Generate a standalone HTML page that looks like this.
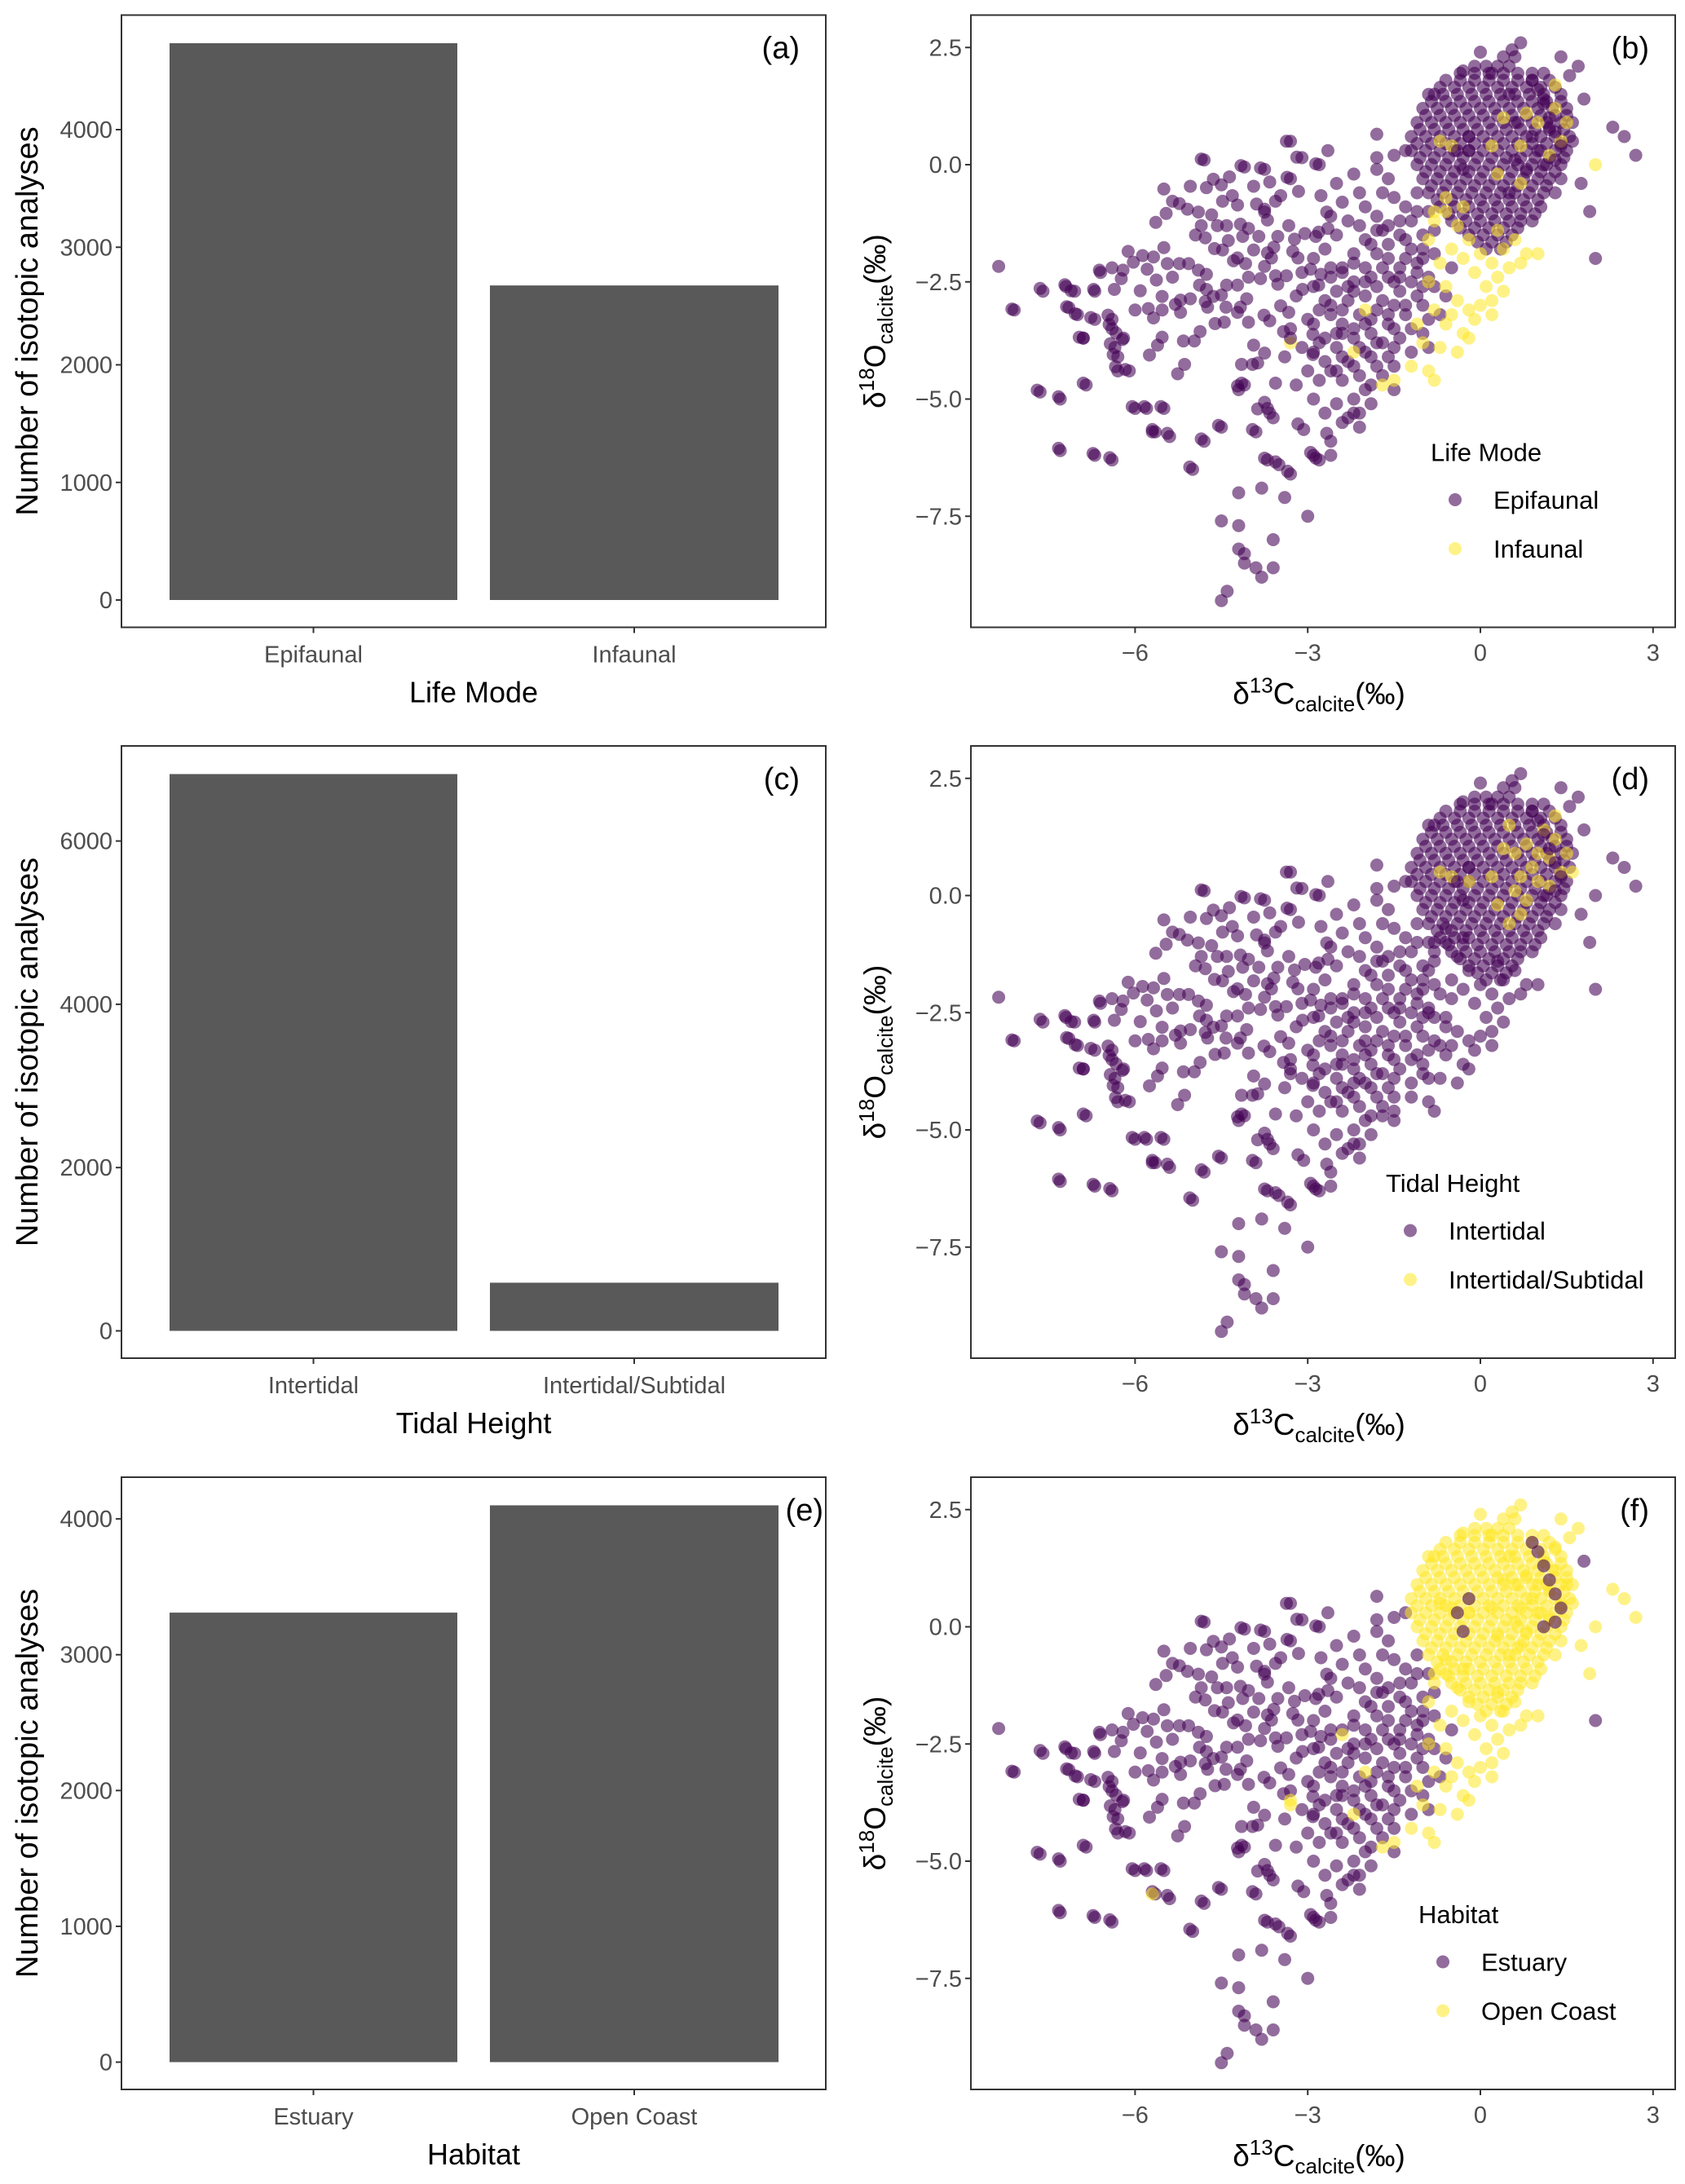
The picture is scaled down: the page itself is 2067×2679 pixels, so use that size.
<!DOCTYPE html>
<html><head><meta charset="utf-8">
<style>
html,body{margin:0;padding:0;background:#fff;}
svg{display:block;font-family:"Liberation Sans",Arial,sans-serif;}
</style></head>
<body>
<svg id="fig" width="2067" height="2679" viewBox="0 0 2067 2679" xmlns="http://www.w3.org/2000/svg"></svg>
<script>
// ---------- bar data ----------
const lifeModeCats = ["Epifaunal","Infaunal"];
const lifeModeCounts = [4735, 2675];
const tidalCats = ["Intertidal","Intertidal/Subtidal"];
const tidalCounts = [6820, 590];
const habitatCats = ["Estuary","Open Coast"];
const habitatCounts = [3310, 4100];
const ticksA = [0,1000,2000,3000,4000];
const ticksC = [0,2000,4000,6000];
const ticksE = [0,1000,2000,3000,4000];
// ---------- scatter data (d13C, d18O) ----------
const leftX = [-8.37,-8.1,-7.6,-7.2,-7.05,-7.15,-7.0,-6.9,-6.7,-6.7,-6.6,-6.4,-6.4,-6.35,-6.3,-6.2,-6.1,-6.3,-7.65,-7.3,-6.85,-7.3,-6.7,-6.4,-6.0,-5.8,-5.5,-5.65,-5.4,-5.0,-4.8,-4.5,-4.2,-4.1,-3.9,-3.7,-3.6,-3.7,-3.5,-3.3,-4.2,-3.8,-3.4,-3.0,-4.5,-4.2,-4.2,-4.1,-4.1,-3.9,-3.8,-3.6,-3.6,-4.4,-4.5,-2.6,-2.8,-2.9,-2.6,-2.4,-2.1,-2.2,-1.9,-2.65,-2.8,-3.1,-3.3,-4.8,-4.1,-3.75,-3.3,-1.8,-1.8,-1.5,-1.3,-1.8,-1.6,-2.2,-2.5,
-4.85,-3.37,-3.19,-2.86,-3.82,-4.16,-4.36,-3.66,-3.36,-3.16,-5.5,-5.04,-4.76,-4.64,-4.5,-3.94,-5.35,-5.23,-5.46,-5.64,-5.09,-4.9,-4.67,-4.48,-4.31,-4.22,-3.89,-3.75,-3.56,-3.47,-3.75,-2.77,-2.67,-4.85,-4.95,-4.78,-4.57,-4.41,-4.17,-4.03,-4.13,-3.85,-3.7,-3.52,-3.33,-3.23,-3.05,-2.86,-2.81,-2.65,-4.38,-4.62,-4.48,-4.22,-4.29,-4.08,-3.94,-3.7,-3.59,-3.26,-3.17,-3.63,-3.75,-3.82,-3.56,-3.37,-3.52,-2.95,-2.77,-3.09,-2.81,-4.03,-4.22,-4.41,-4.5,-4.64,-4.76,-4.88,-4.78,-4.74,-5.04,-5.21,-5.3,-5.53,-5.53,-5.68,-5.77,-6.0,-5.91,-5.35,-5.23,-5.07,-4.9,-4.76,-5.44,-5.63,-5.79,-5.68,-5.87,-6.03,-6.12,-5.5,-6.21,-6.36,-6.24,-6.4,-6.62,-6.72,-4.61,-4.45,-4.22,-4.03,-4.17,-4.06,-4.42,-4.87,-4.97,-5.16,-5.53,-5.61,-5.75,-5.21,-5.14,-5.26,-4.22,-4.15,-3.56,-3.96,-4.15,-3.87,-3.75,-2.91,-2.91,-3.94,-3.42,-3.76,-3.47,-3.33,-3.75,-3.66,-3.87,-3.96,-3.17,-3.07,-2.67,-2.95,-2.86,-3.75,-3.56,-3.35,-4.55,-4.85,-5.44,-5.7,-5.05,-6.05,-5.84,-5.55,-6.9,-7.7,-7.33,-7.33,-6.73,-6.44,-8.14,-7.65,-7.22,-7.11,-7.19,-7.04,-6.77,-6.47,-6.45,-6.33,-6.22,-6.43,-6.38,-6.34,-6.17,-6.97,-6.9,-3.66];
const leftY = [-2.17,-3.1,-2.7,-2.6,-2.7,-3.05,-3.2,-3.7,-3.3,-2.7,-2.3,-3.3,-3.5,-3.9,-4.1,-3.7,-4.4,-4.4,-4.85,-5.0,-4.7,-6.1,-6.2,-6.3,-5.2,-5.2,-5.2,-5.7,-5.8,-6.5,-5.9,-5.6,-4.8,-4.7,-5.7,-5.2,-5.4,-6.3,-6.4,-6.6,-7.0,-6.9,-7.1,-7.5,-7.6,-7.7,-8.2,-8.3,-8.5,-8.6,-8.8,-8.6,-8.0,-9.1,-9.3,-6.2,-6.3,-6.2,-5.9,-5.5,-5.6,-5.3,-5.1,0.3,0.0,0.15,0.5,0.1,-0.05,-0.1,-0.3,0.65,0.15,0.2,0.3,-0.1,-0.3,-0.2,-0.4,
0.12,0.5,0.16,0.02,-0.07,-0.02,-0.26,-0.37,-0.27,-0.57,-0.52,-0.46,-0.49,-0.31,-0.43,-0.46,-0.78,-0.83,-1.04,-1.23,-0.95,-1.01,-1.07,-0.78,-0.66,-0.86,-0.84,-1.01,-0.78,-0.66,-0.95,-0.66,-1.01,-1.3,-1.5,-1.56,-1.3,-1.3,-1.27,-1.36,-1.53,-1.53,-1.18,-1.53,-1.3,-1.59,-1.47,-1.53,-1.44,-1.36,-1.62,-1.79,-1.82,-1.99,-2.05,-2.11,-1.82,-1.88,-1.76,-1.85,-1.99,-1.99,-2.17,-2.43,-2.37,-2.37,-2.55,-2.23,-2.34,-2.66,-2.57,-2.4,-2.57,-2.57,-2.78,-2.81,-2.66,-2.57,-2.92,-3.04,-2.86,-2.89,-2.98,-2.81,-3.1,-3.27,-3.07,-3.1,-2.69,-2.4,-2.11,-2.11,-2.25,-2.34,-2.11,-2.46,-2.23,-1.97,-1.94,-2.08,-1.85,-1.77,-2.25,-2.66,-2.43,-2.2,-2.25,-2.66,-3.39,-3.36,-3.15,-3.36,-3.04,-2.86,-3.04,-3.56,-3.76,-3.76,-3.68,-3.85,-4.06,-3.15,-4.26,-4.46,-4.72,-4.66,-4.66,-4.26,-4.26,-4.23,-4.02,-4.05,-3.62,-3.85,-3.56,-3.21,-3.01,-3.15,-5.07,-5.3,-5.21,-5.65,-5.53,-5.65,-5.73,-6.14,-6.26,-6.26,-6.34,-6.54,-5.56,-5.85,-5.73,-5.65,-6.45,-5.16,-5.16,-5.16,-4.66,-4.81,-4.95,-6.05,-6.16,-6.25,-3.08,-2.64,-2.56,-2.69,-3.03,-3.18,-3.26,-3.21,-3.41,-3.59,-3.73,-3.82,-4.05,-4.31,-4.37,-3.68,-3.7,-3.33];
const midX = [-2.9,-2.7,-2.5,-2.3,-2.1,-2.0,-2.2,-2.4,-2.6,-2.8,-3.0,-3.1,-2.9,-2.6,-2.4,-2.2,-2.0,-1.8,-1.9,-2.1,-2.3,-2.5,-2.7,-2.8,-3.0,-2.6,-2.4,-2.2,-2.0,-1.8,-1.6,-1.7,-1.5,-1.4,-1.6,-1.8,-2.0,-2.2,-2.0,-1.8,-1.6,-1.4,-1.2,-1.1,-1.3,-1.0,-1.2,-1.4,-1.6,-1.8,-2.0,-2.3,-2.5,-2.7,-2.9,-3.1,-1.2,-1.0,-1.0,-0.9,-1.3,-1.5,-1.1,-0.9,-0.8,-1.7,-2.1,-2.4,-2.6,-1.9,-1.7,-2.5,-2.7,-2.3,-1.6,-1.4,-1.2,-1.0,-0.9,-0.7,-0.6,-0.8,-0.5,-3.2,-3.3,-3.4,-3.2,-2.9,-2.1,-1.5,-2.4,-2.2,-1.9,-1.7,-1.5,-1.3,-1.1,
-2.8,-2.5,-2.2,-1.9,-1.6,-1.3,-2.7,-2.4,-2.1,-1.8,-1.5,-2.6,-2.3,-2.0,-1.7,-1.4,-1.1,-2.2,-1.9,-1.6,-1.3,-1.0,-2.5,-2.2,-1.9,-1.5,-1.2,-0.9,-1.7,-1.4,-1.1,-0.8,-2.1,-1.8,-2.4,-2.0,-1.5,-1.0,-2.9,-2.6];
const midY = [-4.0,-3.7,-3.9,-4.2,-4.5,-4.8,-5.0,-4.6,-4.4,-4.6,-4.4,-3.9,-3.4,-3.2,-3.4,-3.7,-4.0,-4.3,-3.6,-3.2,-2.9,-2.7,-2.9,-3.1,-3.3,-2.4,-2.2,-2.5,-2.8,-3.1,-3.4,-3.8,-3.0,-2.7,-2.4,-2.6,-2.2,-1.9,-1.6,-1.9,-2.0,-2.2,-2.5,-2.8,-3.2,-3.0,-1.8,-1.5,-1.3,-1.1,-0.9,-1.2,-1.5,-1.8,-2.0,-2.3,-1.2,-1.5,-2.0,-2.4,-0.9,-0.7,-0.6,-1.0,-1.4,-0.6,-0.6,-0.8,-1.1,-4.7,-4.5,-5.1,-5.3,-5.4,-4.1,-3.7,-3.5,-3.6,-3.9,-3.2,-2.8,-2.6,-2.2,-2.8,-3.5,-4.1,-4.7,-5.0,-5.3,-4.8,-3.1,-2.7,-2.4,-2.9,-2.5,-2.0,-2.3,
-3.8,-3.6,-3.5,-3.3,-3.2,-3.0,-4.2,-4.1,-3.9,-3.8,-3.5,-3.0,-2.6,-2.5,-2.2,-2.4,-2.1,-2.1,-1.7,-1.7,-1.6,-1.8,-4.4,-4.3,-4.1,-4.3,-4.0,-3.3,-1.4,-1.2,-1.0,-1.9,-1.3,-1.4,-3.6,-3.4,-3.9,-2.6,-2.6,-2.2];
const blobX = [-0.1,0.1,0.3,0.5,
-0.6,-0.35,-0.1,0.15,0.4,0.65,0.9,1.2,
-0.9,-0.65,-0.4,-0.15,0.1,0.35,0.6,0.85,1.1,1.4,
-1.0,-0.75,-0.5,-0.25,0.0,0.25,0.5,0.75,1.0,1.25,1.5,
-1.1,-0.85,-0.6,-0.35,-0.1,0.15,0.4,0.65,0.9,1.15,1.4,1.6,
-1.2,-0.95,-0.7,-0.45,-0.2,0.05,0.3,0.55,0.8,1.05,1.3,1.55,
-1.2,-0.95,-0.7,-0.45,-0.2,0.05,0.3,0.55,0.8,1.05,1.3,1.5,
-1.1,-0.85,-0.6,-0.35,-0.1,0.15,0.4,0.65,0.9,1.15,1.4,
-1.0,-0.75,-0.5,-0.25,0.0,0.25,0.5,0.75,1.0,1.2,1.4,
-0.9,-0.65,-0.4,-0.15,0.1,0.35,0.6,0.85,1.1,1.3,
-0.7,-0.45,-0.2,0.05,0.3,0.55,0.8,1.05,
-0.5,-0.25,0.0,0.25,0.5,0.7,0.9,
-0.2,0.05,0.3,0.55,
0.1,0.35,
0.0,0.6,0.2,-0.3,
-0.35,-0.1,0.15,0.4,0.65,0.9,1.1,
-0.7,-0.45,-0.2,0.05,0.3,0.55,0.8,1.05,1.3,
-0.85,-0.6,-0.35,-0.1,0.15,0.4,0.65,0.9,1.15,1.4,
-0.95,-0.7,-0.45,-0.2,0.05,0.3,0.55,0.8,1.05,1.3,1.5,
-1.05,-0.8,-0.55,-0.3,-0.05,0.2,0.45,0.7,0.95,1.2,1.45,
-1.1,-0.85,-0.6,-0.35,-0.1,0.15,0.4,0.65,0.9,1.15,1.4,
-1.05,-0.8,-0.55,-0.3,-0.05,0.2,0.45,0.7,0.95,1.2,1.45,
-0.95,-0.7,-0.45,-0.2,0.05,0.3,0.55,0.8,1.05,1.3,
-0.85,-0.6,-0.35,-0.1,0.15,0.4,0.65,0.9,1.15,
-0.75,-0.5,-0.25,0.0,0.25,0.5,0.75,1.0,
-0.55,-0.3,-0.05,0.2,0.45,0.7,0.95,
-0.35,-0.1,0.15,0.4,0.65,
-0.05,0.2,0.45];
const blobY = [2.1,2.1,2.1,2.1,
1.8,1.8,1.8,1.8,1.8,1.8,1.8,1.8,
1.5,1.5,1.5,1.5,1.5,1.5,1.5,1.5,1.5,1.5,
1.2,1.2,1.2,1.2,1.2,1.2,1.2,1.2,1.2,1.2,1.2,
0.9,0.9,0.9,0.9,0.9,0.9,0.9,0.9,0.9,0.9,0.9,0.9,
0.6,0.6,0.6,0.6,0.6,0.6,0.6,0.6,0.6,0.6,0.6,0.6,
0.3,0.3,0.3,0.3,0.3,0.3,0.3,0.3,0.3,0.3,0.3,0.3,
0.0,0.0,0.0,0.0,0.0,0.0,0.0,0.0,0.0,0.0,0.0,
-0.3,-0.3,-0.3,-0.3,-0.3,-0.3,-0.3,-0.3,-0.3,-0.3,-0.3,
-0.6,-0.6,-0.6,-0.6,-0.6,-0.6,-0.6,-0.6,-0.6,-0.6,
-0.9,-0.9,-0.9,-0.9,-0.9,-0.9,-0.9,-0.9,
-1.2,-1.2,-1.2,-1.2,-1.2,-1.2,-1.2,
-1.5,-1.5,-1.5,-1.5,
-1.8,-1.8,
2.4,2.3,1.95,2.0,
1.95,1.95,1.95,1.95,1.95,1.95,1.95,
1.65,1.65,1.65,1.65,1.65,1.65,1.65,1.65,1.65,
1.35,1.35,1.35,1.35,1.35,1.35,1.35,1.35,1.35,1.35,
1.05,1.05,1.05,1.05,1.05,1.05,1.05,1.05,1.05,1.05,1.05,
0.75,0.75,0.75,0.75,0.75,0.75,0.75,0.75,0.75,0.75,0.75,
0.45,0.45,0.45,0.45,0.45,0.45,0.45,0.45,0.45,0.45,0.45,
0.15,0.15,0.15,0.15,0.15,0.15,0.15,0.15,0.15,0.15,0.15,
-0.15,-0.15,-0.15,-0.15,-0.15,-0.15,-0.15,-0.15,-0.15,-0.15,
-0.45,-0.45,-0.45,-0.45,-0.45,-0.45,-0.45,-0.45,-0.45,
-0.75,-0.75,-0.75,-0.75,-0.75,-0.75,-0.75,-0.75,
-1.05,-1.05,-1.05,-1.05,-1.05,-1.05,-1.05,
-1.35,-1.35,-1.35,-1.35,-1.35,
-1.65,-1.65,-1.65];
const infX = [-0.8,-0.6,-0.4,-0.2,0.0,0.2,0.4,0.6,0.8,1.0,0.3,0.1,-0.1,-0.3,-0.5,-0.7,-0.9,-0.6,-0.4,-0.2,0.0,0.2,0.4,0.5,-0.8,-0.6,-0.3,-0.1,0.2,-1.0,-0.7,-0.4,-0.2,-0.9,-1.2,-1.5,-1.7,-0.8,-2.0,-3.3,-2.2,-0.9,-0.3,0.3,0.7,-0.5,-1.1,-0.6,-0.8];
const infY = [-1.2,-1.0,-1.3,-1.6,-1.9,-2.1,-1.8,-1.6,-1.9,-1.9,-2.4,-2.6,-2.3,-2.0,-1.8,-2.1,-2.5,-2.6,-2.9,-3.1,-3.0,-2.9,-2.7,-2.2,-3.1,-3.4,-3.6,-3.3,-3.2,-3.8,-3.9,-4.0,-3.7,-4.4,-4.3,-4.6,-4.7,-4.6,-3.1,-3.8,-4.0,-1.6,-0.9,-1.4,-2.1,-3.2,-3.4,-0.7,-1.0];
const rightX = [0.4,0.6,0.8,1.0,1.2,1.4,1.3,1.1,0.9,0.7,0.6,0.8,0.7,0.5,1.0,1.2,1.3,1.5,1.6,0.2,-0.2,-0.5,-0.7,0.5,0.3];
const rightY = [1.0,0.9,1.1,0.9,0.8,0.5,1.2,1.4,0.6,0.4,0.1,-0.1,-0.4,-0.6,0.3,0.2,1.7,0.9,0.5,0.4,0.3,0.4,0.5,1.5,-0.2];
const rightLifeMode = [1,0,1,1,0,1,1,0,0,1,0,0,1,0,0,1,1,1,0,1,0,1,1,0,1];
const edgeX = [1.9,2.0,2.7,2.3,2.5,1.7,1.4,0.7,0.55,0.4,2.0,1.8,-0.8,1.55,1.75];
const edgeY = [-1.0,-2.0,0.2,0.8,0.6,2.1,2.3,2.6,2.45,2.3,0.0,1.4,1.5,1.9,-0.4];
const edgeLife = [0,0,0,0,0,0,0,0,0,0,1,0,0,0,0];
const edgeHabitat = [1,0,1,1,1,1,1,1,1,1,1,0,1,1,1];
const estX = [1.0,1.1,1.2,1.3,1.4,1.3,-0.4,-0.3,-0.2,0.9,1.1,-2.4,-5.7,-3.3];
const estY = [1.6,1.3,1.0,0.7,0.4,0.1,0.3,-0.1,0.6,1.8,0.0,-2.3,-5.7,-3.7];
const estHabitat = [0,0,0,0,0,0,0,0,0,0,0,1,1,1];

const P = [];
leftX.forEach((x,i)=>P.push({x:x,y:leftY[i],b:0,d:0,f:0}));
midX.forEach((x,i)=>P.push({x:x,y:midY[i],b:0,d:0,f:0}));
blobX.forEach((x,i)=>P.push({x:x,y:blobY[i],b:0,d:0,f:1}));
infX.forEach((x,i)=>P.push({x:x,y:infY[i],b:1,d:0,f:1}));
rightX.forEach((x,i)=>P.push({x:x,y:rightY[i],b:rightLifeMode[i],d:1,f:1}));
edgeX.forEach((x,i)=>P.push({x:x,y:edgeY[i],b:edgeLife[i],d:0,f:edgeHabitat[i]}));
estX.forEach((x,i)=>P.push({x:x,y:estY[i],b:0,d:0,f:estHabitat[i]}));

const NS = "http://www.w3.org/2000/svg";
const svg = document.getElementById("fig");
function mk(tag, attrs, parent){
  const e = document.createElementNS(NS, tag);
  for (const k in attrs) e.setAttribute(k, attrs[k]);
  (parent||svg).appendChild(e);
  return e;
}
const rowTop = [18.5, 915, 1812];
const PH = 751;
const BL = 149, BR = 1013;
const SL = 1191, SR = 2055;
const PURPLE = "rgba(68,1,84,0.58)", YELLOW = "rgba(253,231,37,0.55)";
const TICKC = "#4d4d4d";
const TICKFS = 29, TITLEFS = 36, LEGFS = 31;

function barPanel(r, cats, counts, ticks, xtitle, label){
  const top = rowTop[r];
  const g = mk("g", {});
  
  
  const maxV = Math.max.apply(null, counts);
  const y = v => top + 717.5 - v * (683 / maxV);
  const bands = [[208,561],[601,955]];
  counts.forEach((c,i)=>{
    const rc = mk("rect", {x:bands[i][0], y:y(c), width:bands[i][1]-bands[i][0], height:y(0)-y(c), fill:"#595959"}, g);
    
    
  });
  mk("rect", {x:BL, y:top, width:BR-BL, height:PH, fill:"none", stroke:"#333", "stroke-width":2}, g);
  ticks.forEach(t=>{
    mk("line", {x1:BL-7, x2:BL, y1:y(t), y2:y(t), stroke:"#333", "stroke-width":2}, g);
    const tx = mk("text", {x:BL-11, y:y(t)+10, "text-anchor":"end", "font-size":TICKFS, fill:TICKC}, g);
    tx.textContent = t;
    
    
  });
  cats.forEach((c,i)=>{
    const cx = (bands[i][0]+bands[i][1])/2;
    mk("line", {x1:cx, x2:cx, y1:top+PH, y2:top+PH+7, stroke:"#333", "stroke-width":2}, g);
    const tx = mk("text", {x:cx, y:top+PH+43, "text-anchor":"middle", "font-size":TICKFS, fill:TICKC}, g);
    tx.textContent = c;
    
    
  });
  const xt = mk("text", {x:(BL+BR)/2, y:top+PH+92, "text-anchor":"middle", "font-size":TITLEFS, fill:"#000"}, g);
  xt.textContent = xtitle;
  
  
  const yt = mk("text", {x:0, y:0, "text-anchor":"middle", "font-size":38, fill:"#000", transform:`translate(46,${top+PH/2}) rotate(-90)`}, g);
  yt.textContent = "Number of isotopic analyses";
  
  
  const pl = mk("text", {x: label==="e" ? 1010 : 981, y:top+53, "text-anchor":"end", "font-size":38, fill:"#000"}, g);
  pl.textContent = "(" + label + ")";
  
  
}

function scatterPanel(r, key, label, legTitle, legNames, legX){
  const top = rowTop[r];
  const g = mk("g", {});
  
  
  const X = v => 1816 + v * 70.6;
  const Y = v => top + 183.5 - v * 57.5;
  const clip = mk("clipPath", {id:"clip"+label}, g);
  mk("rect", {x:SL, y:top, width:SR-SL, height:PH}, clip);
  const pg = mk("g", {"clip-path":`url(#clip${label})`}, g);
  const nEst = estX.length;
  const main = P.slice(0, P.length - nEst), last = P.slice(P.length - nEst);
  const order = main.filter(p=>p[key]===0).concat(main.filter(p=>p[key]===1)).concat(last);
  order.forEach(p=>{
    const c = mk("circle", {cx:X(p.x), cy:Y(p.y), r:8, fill: p[key] ? YELLOW : PURPLE}, pg);
    
    
  });
  mk("rect", {x:SL, y:top, width:SR-SL, height:PH, fill:"none", stroke:"#333", "stroke-width":2}, g);
  const yticks = [2.5,0,-2.5,-5,-7.5];
  yticks.forEach(t=>{
    mk("line", {x1:SL-7, x2:SL, y1:Y(t), y2:Y(t), stroke:"#333", "stroke-width":2}, g);
    const tx = mk("text", {x:SL-11, y:Y(t)+10, "text-anchor":"end", "font-size":TICKFS, fill:TICKC}, g);
    tx.textContent = (t<0?"\u2212":"") + Math.abs(t).toFixed(1);
    
    
  });
  [-6,-3,0,3].forEach(t=>{
    mk("line", {x1:X(t), x2:X(t), y1:top+PH, y2:top+PH+7, stroke:"#333", "stroke-width":2}, g);
    const tx = mk("text", {x:X(t), y:top+PH+41, "text-anchor":"middle", "font-size":TICKFS, fill:TICKC}, g);
    tx.textContent = (t<0?"\u2212":"") + Math.abs(t);
    
    
  });
  const xt = mk("text", {x:1618, y:top+PH+94, "text-anchor":"middle", "font-size":37, fill:"#000"}, g);
  xt.innerHTML = 'δ<tspan dy="-14" font-size="26">13</tspan><tspan dy="14">C</tspan><tspan dy="9" font-size="26">calcite</tspan><tspan dy="-9">(‰)</tspan>';
  
  
  const yt = mk("text", {x:0, y:0, "text-anchor":"middle", "font-size":37, fill:"#000", transform:`translate(1086,${top+PH/2}) rotate(-90)`}, g);
  yt.innerHTML = 'δ<tspan dy="-14" font-size="26">18</tspan><tspan dy="14">O</tspan><tspan dy="9" font-size="26">calcite</tspan><tspan dy="-9">(‰)</tspan>';
  
  
  const pl = mk("text", {x:2023, y:top+53, "text-anchor":"end", "font-size":38, fill:"#000"}, g);
  pl.textContent = "(" + label + ")";
  
  
  const lg = mk("g", {}, g);
  
  
  const lt = mk("text", {x:legX, y:top+536+11, "font-size":LEGFS, fill:"#000"}, lg);
  lt.textContent = legTitle;
  
  
  legNames.forEach((n,i)=>{
    const cy = top + 594.5 + i*60;
    const c = mk("circle", {cx:legX+30, cy:cy, r:8, fill: i ? YELLOW : PURPLE}, lg);
    
    
    const t = mk("text", {x:legX+77, y:cy+11, "font-size":LEGFS, fill:"#000"}, lg);
    t.textContent = n;
    
    
  });
}

barPanel(0, lifeModeCats, lifeModeCounts, ticksA, "Life Mode", "a");
barPanel(1, tidalCats, tidalCounts, ticksC, "Tidal Height", "c");
barPanel(2, habitatCats, habitatCounts, ticksE, "Habitat", "e");
scatterPanel(0, "b", "b", "Life Mode", lifeModeCats, 1755);
scatterPanel(1, "d", "d", "Tidal Height", tidalCats, 1700);
scatterPanel(2, "f", "f", "Habitat", habitatCats, 1740);
</script>
</body></html>
